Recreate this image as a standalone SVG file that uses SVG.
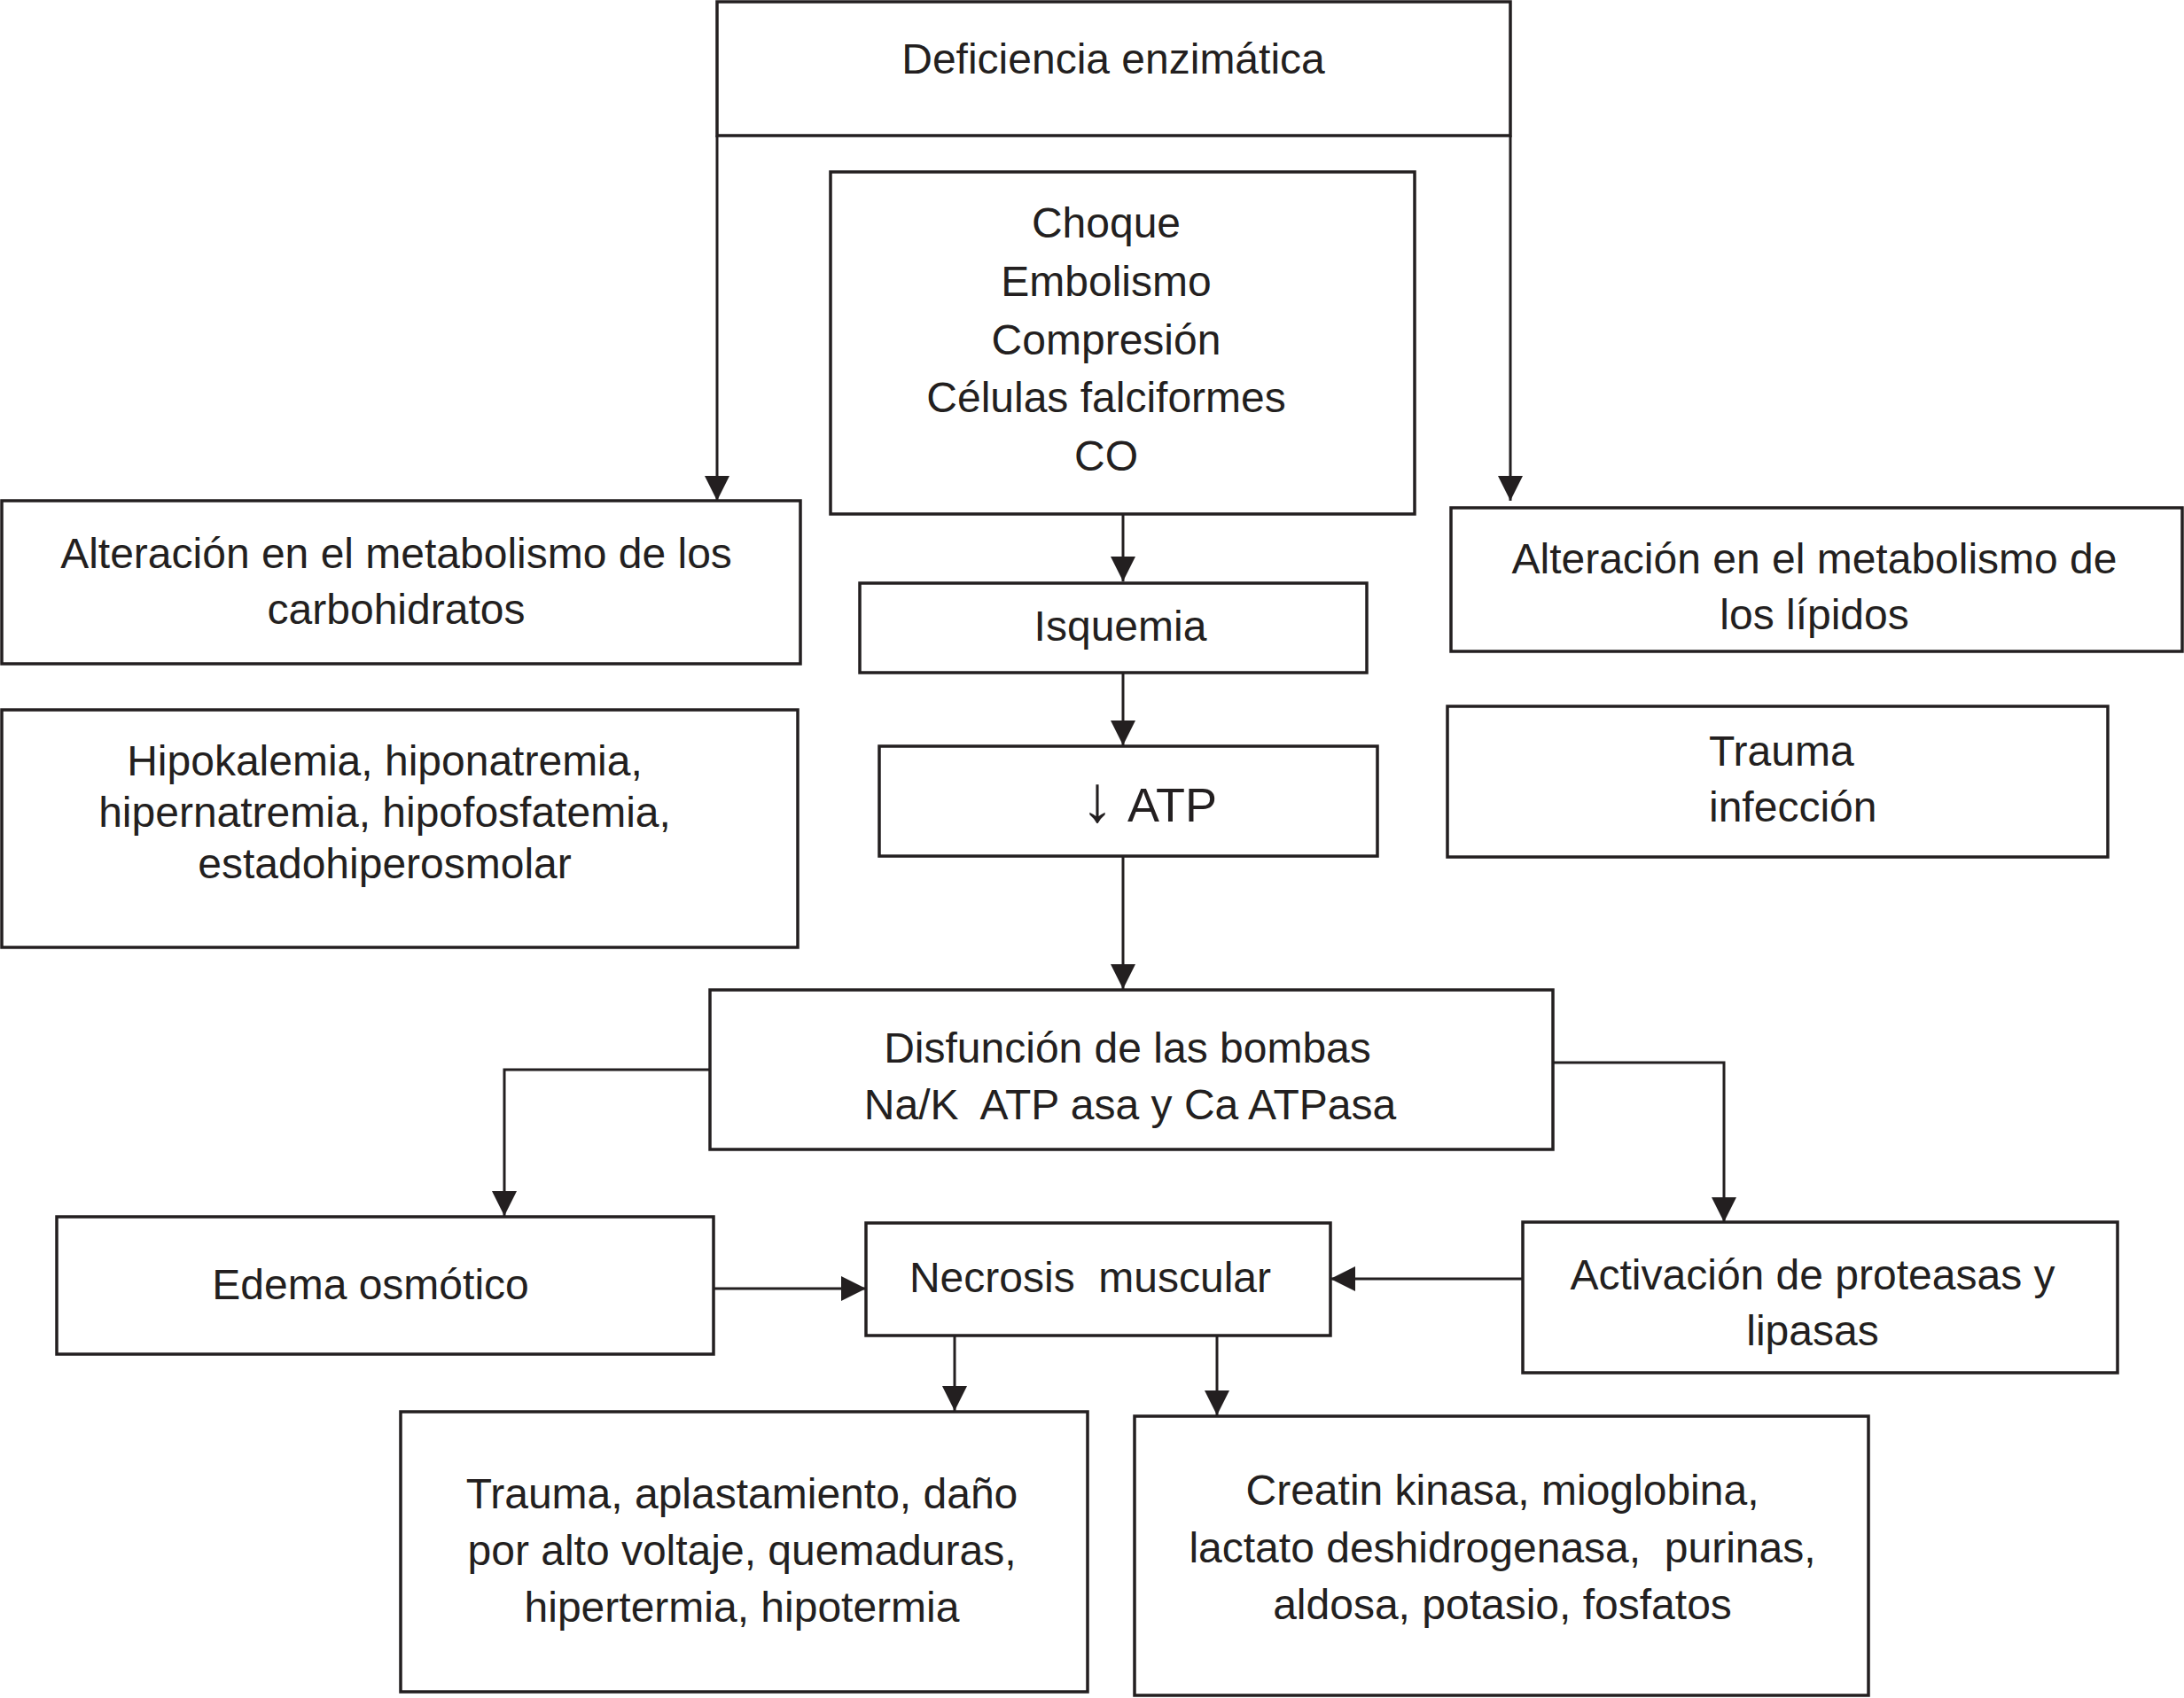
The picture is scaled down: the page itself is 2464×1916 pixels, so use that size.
<svg xmlns="http://www.w3.org/2000/svg" width="2464" height="1916" viewBox="0 0 2464 1916">
<style>
.box{fill:#ffffff;stroke:#231f20;stroke-width:3.5}
.t{font-family:"Liberation Sans",Arial,sans-serif;font-size:48px;fill:#231f20;text-anchor:middle}
.c{fill:none;stroke:#231f20;stroke-width:3}
</style>
<defs>
<marker id="ah" viewBox="0 0 28 28" refX="28" refY="14" markerWidth="28" markerHeight="28" markerUnits="userSpaceOnUse" orient="auto">
<path d="M0,0 L28,14 L0,28 z" fill="#231f20"/>
</marker>
</defs>
<rect width="2464" height="1916" fill="#ffffff"/>

<g id="connectors">
<path class="c" d="M809,153 L809,565" marker-end="url(#ah)"/>
<path class="c" d="M1704,153 L1704,565" marker-end="url(#ah)"/>
<path class="c" d="M1267,580 L1267,656" marker-end="url(#ah)"/>
<path class="c" d="M1267,760 L1267,841" marker-end="url(#ah)"/>
<path class="c" d="M1267,966 L1267,1116" marker-end="url(#ah)"/>
<path class="c" d="M801,1207 L569,1207 L569,1372" marker-end="url(#ah)"/>
<path class="c" d="M1752,1199 L1945,1199 L1945,1379" marker-end="url(#ah)"/>
<path class="c" d="M805,1454 L977,1454" marker-end="url(#ah)"/>
<path class="c" d="M1718,1443 L1501,1443" marker-end="url(#ah)"/>
<path class="c" d="M1077,1507 L1077,1592" marker-end="url(#ah)"/>
<path class="c" d="M1373,1507 L1373,1597" marker-end="url(#ah)"/>
</g>

<g id="deficiencia">
<rect class="box" x="809" y="2" width="895" height="151"/>
<text class="t" x="1256" y="83">Deficiencia enzimática</text>
</g>

<g id="causas">
<rect class="box" x="937" y="194" width="659" height="386"/>
<text class="t" x="1248" y="268">Choque</text>
<text class="t" x="1248" y="334">Embolismo</text>
<text class="t" x="1248" y="400">Compresión</text>
<text class="t" x="1248" y="465">Células falciformes</text>
<text class="t" x="1248" y="531">CO</text>
</g>

<g id="carbohidratos">
<rect class="box" x="2" y="565" width="901" height="184"/>
<text class="t" x="447" y="641">Alteración en el metabolismo de los</text>
<text class="t" x="447" y="704">carbohidratos</text>
</g>

<g id="lipidos">
<rect class="box" x="1637" y="573" width="825" height="162"/>
<text class="t" x="2047" y="647">Alteración en el metabolismo de</text>
<text class="t" x="2047" y="710">los lípidos</text>
</g>

<g id="isquemia">
<rect class="box" x="970" y="658" width="572" height="101"/>
<text class="t" x="1264" y="723">Isquemia</text>
</g>

<g id="electrolitos">
<rect class="box" x="2" y="801" width="898" height="268"/>
<text class="t" x="434" y="875">Hipokalemia, hiponatremia,</text>
<text class="t" x="434" y="933">hipernatremia, hipofosfatemia,</text>
<text class="t" x="434" y="991">estadohiperosmolar</text>
</g>

<g id="atp">
<rect class="box" x="992" y="842" width="562" height="124"/>
<text class="t" x="1238" y="927" style="font-size:74px">↓</text>
<text class="t" x="1272" y="927" style="font-size:54px;text-anchor:start">ATP</text>
</g>

<g id="trauma-infeccion">
<rect class="box" x="1633" y="797" width="745" height="170"/>
<text class="t" x="1928" y="864" style="text-anchor:start">Trauma</text>
<text class="t" x="1928" y="927" style="text-anchor:start">infección</text>
</g>

<g id="disfuncion">
<rect class="box" x="801" y="1117" width="951" height="180"/>
<text class="t" x="1272" y="1199">Disfunción de las bombas</text>
<text class="t" x="1275" y="1263" xml:space="preserve">Na/K  ATP asa y Ca ATPasa</text>
</g>

<g id="edema">
<rect class="box" x="64" y="1373" width="741" height="155"/>
<text class="t" x="418" y="1466">Edema osmótico</text>
</g>

<g id="necrosis">
<rect class="box" x="977" y="1380" width="524" height="127"/>
<text class="t" x="1230" y="1458" xml:space="preserve">Necrosis  muscular</text>
</g>

<g id="activacion">
<rect class="box" x="1718" y="1379" width="671" height="170"/>
<text class="t" x="2045" y="1455">Activación de proteasas y</text>
<text class="t" x="2045" y="1518">lipasas</text>
</g>

<g id="trauma-causas">
<rect class="box" x="452" y="1593" width="775" height="316"/>
<text class="t" x="837" y="1702">Trauma, aplastamiento, daño</text>
<text class="t" x="837" y="1766">por alto voltaje, quemaduras,</text>
<text class="t" x="837" y="1830">hipertermia, hipotermia</text>
</g>

<g id="marcadores">
<rect class="box" x="1280" y="1598" width="828" height="315"/>
<text class="t" x="1695" y="1698">Creatin kinasa, mioglobina,</text>
<text class="t" x="1695" y="1763" xml:space="preserve">lactato deshidrogenasa,  purinas,</text>
<text class="t" x="1695" y="1827">aldosa, potasio, fosfatos</text>
</g>
</svg>
